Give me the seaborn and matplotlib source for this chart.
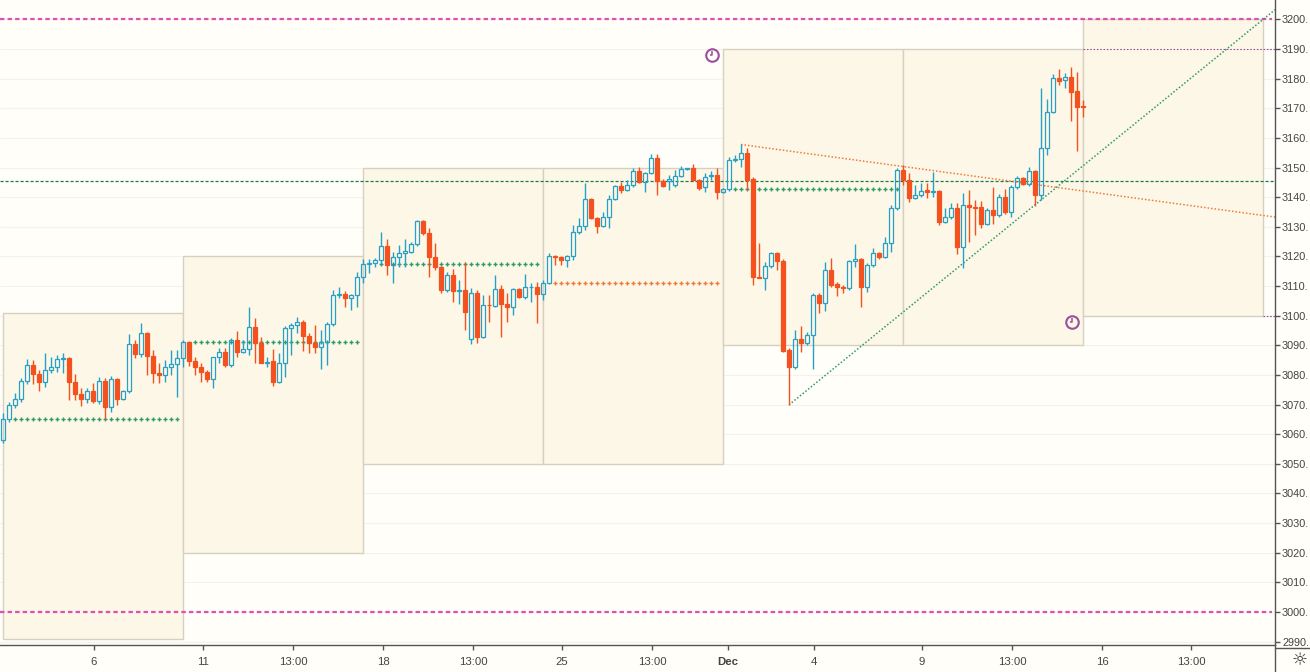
import numpy as np
import pandas as pd
import matplotlib
matplotlib.use("Agg")
import matplotlib.pyplot as plt
from matplotlib.patches import Rectangle
from matplotlib.lines import Line2D
from matplotlib.path import Path
import seaborn as sns

# 4h candles, index 0..180
opens = [
    3058, 3065, 3070, 3072, 3078, 3083.5, 3080.3, 3077.7, 3081.7, 3082.6,
    3085.3, 3085.6, 3077.7, 3073.6, 3071.8, 3074.7, 3071.3, 3078.0, 3069.3, 3078.5,
    3071.8, 3074.7, 3090.3, 3087.0, 3094.0, 3086.4, 3080.8, 3080.0, 3082.8, 3083.7,
    3085.6, 3091.0, 3084.8, 3082.8, 3080.9, 3078.7, 3085.9, 3087.9, 3083.4, 3091.8,
    3087.9, 3088.6, 3096.3, 3090.8, 3084.2, 3084.6, 3077.7, 3084.0, 3095.7, 3096.9,
    3097.8, 3093.0, 3090.8, 3089.3, 3091.1, 3097.1, 3107.0, 3107.3, 3106.1, 3107.0,
    3112.9, 3117.3, 3117.9, 3118.8, 3123.5, 3117.1, 3119.7, 3121.1, 3121.6, 3124.1,
    3132.0, 3127.8, 3119.7, 3116.6, 3108.7, 3113.7, 3108.5, 3108.8, 3092.0, 3107.8,
    3092.7, 3103.6, 3103.3, 3108.9, 3104.0, 3103.0, 3108.9, 3106.4, 3109.6, 3109.6,
    3107.3, 3111.1, 3120.2, 3119.7, 3118.8, 3120.0, 3128.1, 3130.4, 3139.3, 3133.0,
    3130.4, 3133.2, 3139.3, 3143.8, 3142.4, 3144.1, 3148.9, 3145.3, 3148.1, 3153.1,
    3145.6, 3145.6, 3144.1, 3147.2, 3149.5, 3149.7, 3145.8, 3143.3, 3147.0, 3147.5,
    3141.6, 3142.7, 3152.4, 3152.8, 3154.8, 3146.0, 3113.2, 3112.6, 3116.8, 3121.1,
    3118.6, 3088.4, 3082.8, 3092.0, 3090.9, 3093.5, 3107.0, 3104.4, 3115.4, 3110.7,
    3109.8, 3109.2, 3118.5, 3119.0, 3109.6, 3117.1, 3121.1, 3119.7, 3124.4, 3136.3,
    3149.2, 3145.8, 3139.6, 3140.7, 3142.4, 3141.9, 3142.1, 3131.7, 3133.2, 3136.2,
    3123.1, 3137.4, 3136.8, 3136.6, 3131.0, 3135.7, 3134.0, 3140.2, 3135.1, 3143.6,
    3146.4, 3144.5, 3149.0, 3140.7, 3156.5, 3168.9, 3180.1, 3179.6, 3180.7, 3176.0,
    3170.8,
]
highs = [
    3067, 3071, 3074, 3079, 3085.5, 3085, 3081.7, 3087.5, 3086, 3086.7,
    3087.3, 3086.2, 3080.3, 3075.5, 3075.5, 3077.2, 3079.4, 3078.8, 3079.6, 3079.0,
    3075.0, 3093.7, 3091.8, 3097.4, 3094.6, 3088.4, 3083.9, 3085.0, 3088.4, 3088.4,
    3091.8, 3091.5, 3086.2, 3083.9, 3081.7, 3086.2, 3089.2, 3089.2, 3092.4, 3094.9,
    3091.8, 3103.0, 3099.1, 3092.9, 3086.2, 3088.6, 3087.3, 3096.5, 3097.6, 3099.7,
    3098.5, 3094.0, 3096.9, 3095.2, 3098.0, 3108.7, 3109.8, 3108.3, 3107.2, 3114.9,
    3119.2, 3119.0, 3119.4, 3128.4, 3125.8, 3121.6, 3123.9, 3125.8, 3125.0, 3132.3,
    3132.3, 3129.5, 3124.7, 3116.8, 3114.9, 3115.7, 3112.0, 3118.2, 3109.2, 3108.7,
    3107.0, 3107.0, 3113.7, 3110.4, 3107.5, 3109.2, 3109.2, 3114.1, 3111.0, 3111.5,
    3112.0, 3121.1, 3120.5, 3120.2, 3120.5, 3130.6, 3132.9, 3144.7, 3139.9, 3133.4,
    3135.1, 3140.7, 3144.1, 3145.2, 3145.8, 3149.7, 3150.1, 3148.6, 3154.6, 3154.6,
    3146.0, 3147.5, 3149.2, 3150.5, 3150.0, 3151.2, 3146.0, 3148.1, 3149.0, 3149.7,
    3143.0, 3153.7, 3154.3, 3158.0, 3156.5, 3146.9, 3124.4, 3118.2, 3121.6, 3121.6,
    3119.0, 3089.0, 3095.2, 3096.5, 3094.6, 3107.8, 3107.5, 3118.2, 3119.4, 3111.5,
    3110.4, 3118.8, 3124.2, 3119.4, 3117.9, 3122.7, 3121.6, 3126.7, 3137.4, 3149.8,
    3150.9, 3148.1, 3144.1, 3144.7, 3144.7, 3148.6, 3142.4, 3136.2, 3138.2, 3138.2,
    3141.3, 3142.4, 3139.1, 3138.8, 3136.3, 3143.6, 3141.1, 3142.7, 3144.1, 3147.0,
    3146.9, 3150.3, 3149.2, 3176.8, 3173.0, 3181.6, 3183.2, 3182.0, 3184.1, 3182.4,
    3172.8,
]
lows = [
    3057, 3064, 3069, 3071, 3077, 3077, 3074.7, 3076, 3080.8, 3081.1,
    3080.8, 3071.5, 3071.5, 3069.5, 3070.4, 3070.4, 3070.2, 3065.0, 3067.6, 3070.0,
    3071.5, 3073.8, 3085.6, 3086.2, 3080.0, 3077.2, 3077.2, 3077.7, 3080.0, 3072.7,
    3082.8, 3083.0, 3080.0, 3077.7, 3077.7, 3075.5, 3083.9, 3082.8, 3082.8, 3086.2,
    3087.3, 3086.7, 3083.9, 3083.9, 3082.8, 3076.3, 3077.2, 3079.4, 3086.7, 3094.0,
    3088.2, 3087.3, 3087.3, 3081.9, 3083.4, 3096.5, 3105.9, 3103.0, 3101.9, 3102.8,
    3111.0, 3114.3, 3116.6, 3117.1, 3113.7, 3111.1, 3116.6, 3116.6, 3121.1, 3123.5,
    3127.2, 3113.0, 3115.4, 3107.8, 3108.1, 3104.7, 3104.0, 3095.2, 3090.4, 3090.9,
    3092.4, 3098.0, 3103.0, 3092.9, 3098.0, 3100.2, 3105.9, 3105.5, 3104.7, 3097.4,
    3105.3, 3110.7, 3117.1, 3117.1, 3116.6, 3118.8, 3127.6, 3128.9, 3132.5, 3127.8,
    3130.1, 3129.5, 3139.1, 3141.3, 3142.2, 3143.6, 3144.9, 3141.9, 3147.8, 3140.7,
    3143.3, 3142.4, 3143.6, 3146.9, 3149.3, 3145.6, 3142.4, 3141.9, 3145.8, 3139.3,
    3141.3, 3142.2, 3152.0, 3150.3, 3142.4, 3110.4, 3112.6, 3108.7, 3116.0, 3115.4,
    3087.9, 3069.9, 3081.9, 3087.9, 3090.1, 3081.9, 3101.0, 3101.7, 3109.8, 3106.7,
    3107.8, 3108.7, 3116.5, 3102.8, 3108.1, 3116.5, 3119.0, 3119.4, 3121.6, 3135.7,
    3144.1, 3138.5, 3139.3, 3140.2, 3139.9, 3140.2, 3130.6, 3131.4, 3132.5, 3120.8,
    3116.0, 3125.0, 3127.2, 3129.5, 3130.6, 3131.0, 3133.4, 3134.3, 3133.4, 3142.7,
    3144.1, 3143.8, 3137.0, 3139.0, 3154.2, 3168.5, 3177.9, 3176.8, 3165.8, 3155.7,
    3167.2,
]
closes = [
    3065, 3070, 3072, 3078, 3083.5, 3080.3, 3077.7, 3081.7, 3082.6, 3085.3,
    3085.6, 3077.7, 3073.6, 3071.8, 3074.7, 3071.3, 3078.0, 3069.3, 3078.5, 3071.8,
    3074.7, 3090.3, 3087.0, 3094.0, 3086.4, 3080.8, 3080.0, 3082.8, 3083.7, 3085.6,
    3091.0, 3084.8, 3082.8, 3080.9, 3078.7, 3085.9, 3087.9, 3083.4, 3091.8, 3087.9,
    3088.6, 3096.3, 3090.8, 3084.2, 3084.5, 3077.7, 3084.0, 3095.7, 3096.9, 3097.8,
    3093.0, 3090.8, 3089.3, 3091.1, 3097.1, 3107.0, 3107.3, 3106.1, 3107.0, 3112.9,
    3117.3, 3117.9, 3118.8, 3123.5, 3117.1, 3119.7, 3121.1, 3121.8, 3124.2, 3132.0,
    3127.8, 3119.7, 3116.6, 3108.7, 3113.7, 3108.5, 3108.8, 3101.4, 3107.8, 3092.7,
    3103.6, 3103.5, 3108.9, 3104.0, 3103.0, 3108.9, 3106.4, 3109.6, 3109.8, 3107.3,
    3111.1, 3120.2, 3119.7, 3118.8, 3120.0, 3128.1, 3130.4, 3139.3, 3132.9, 3130.4,
    3133.2, 3139.3, 3143.8, 3142.4, 3144.1, 3148.9, 3145.3, 3148.1, 3153.1, 3145.6,
    3143.9, 3146.0, 3147.2, 3149.4, 3149.8, 3145.8, 3143.2, 3146.9, 3147.5, 3141.6,
    3142.7, 3152.6, 3152.8, 3154.8, 3145.8, 3112.9, 3112.6, 3116.8, 3121.1, 3118.6,
    3088.2, 3082.8, 3092.0, 3090.9, 3093.5, 3107.0, 3104.4, 3115.4, 3110.4, 3109.6,
    3109.2, 3118.5, 3119.0, 3109.6, 3117.1, 3121.1, 3119.7, 3124.4, 3136.3, 3149.2,
    3145.8, 3139.6, 3140.7, 3142.2, 3141.9, 3142.0, 3131.7, 3133.2, 3136.2, 3123.1,
    3137.4, 3136.6, 3136.4, 3131.0, 3135.7, 3134.0, 3140.2, 3135.1, 3143.6, 3146.4,
    3144.5, 3149.0, 3140.7, 3156.5, 3168.9, 3180.1, 3179.4, 3180.7, 3175.6, 3170.6,
    3170.6,
]

# weekly range boxes (candle index span, price span)
box_start = [0, 30, 60, 90, 120, 150, 180]
box_end = [30, 60, 90, 120, 150, 180, 210]
box_low = [2991, 3020, 3050, 3050, 3090, 3090, 3100]
box_high = [3101, 3120, 3150, 3150, 3190, 3190, 3200]

# "+" level markers inside boxes
lvl_value = [3065.1, 3091.0, 3117.3, 3110.9, 3142.7]
lvl_first = [2, 32, 63, 92, 122]
lvl_last = [29, 59, 89, 119, 149]
lvl_kind = ["green", "green", "green", "orange", "green"]

# trend lines (candle index, price)
down_trend_x = [123, 212]
down_trend_y = [3157.8, 3133.3]
up_trend_x = [131, 212]
up_trend_y = [3069.9, 3203.3]

# clock icons
clock_x = [118.2, 178.2]
clock_y = [3188.0, 3097.9]

price_ticks = list(range(2990, 3201, 10))
date_pos = [15.17, 33.33, 48.33, 63.33, 78.33, 93.17, 108.17, 120.83,
            135.17, 153.17, 168.17, 183.17, 198.0]
date_labels = ["6", "11", "13:00", "18", "13:00", "25", "13:00", "Dec",
               "4", "9", "13:00", "16", "13:00"]

BG = "#fffef8"
BOX_FILL = "#fdf7e7"
BOX_EDGE = "#d7d0c2"
UP = "#26a0c6"
DOWN = "#f4511e"
GREEN = "#2e9a6b"
ORANGE = "#f07a3a"
PINK = "#dc52b0"
PURPLE = "#9a4e9d"
AXIS = "#555555"

sns.set_style("white")
plt.rcParams["font.family"] = ["Liberation Sans", "DejaVu Sans"]

fig = plt.figure(figsize=(13.1, 6.72), dpi=100, facecolor=BG)
ax = fig.add_axes([0, 27 / 672, 1275 / 1310, 645 / 672], facecolor=BG)

df = pd.DataFrame({"o": opens, "h": highs, "l": lows, "c": closes})
df["i"] = np.arange(len(df))
df["up"] = df["c"] >= df["o"]
df["top"] = df[["o", "c"]].max(axis=1)
df["bot"] = df[["o", "c"]].min(axis=1)
df["body"] = (df["top"] - df["bot"]).clip(lower=0.12)

# faint price grid
for p in price_ticks:
    ax.axhline(p, color="#f5f2e9", lw=0.8, zorder=0)

for x0, x1, lo, hi in zip(box_start, box_end, box_low, box_high):
    ax.add_patch(Rectangle((x0, lo), x1 - x0, hi - lo, facecolor=BOX_FILL,
                           edgecolor=BOX_EDGE, lw=1, zorder=1))

# level markers
rows = []
for v, a, b, k in zip(lvl_value, lvl_first, lvl_last, lvl_kind):
    for i in range(a, b + 1):
        rows.append({"x": i, "y": v, "kind": k})
lv = pd.DataFrame(rows)
sns.scatterplot(data=lv, x="x", y="y", hue="kind", marker="+", s=8,
                linewidth=1.0, palette={"green": GREEN, "orange": ORANGE},
                legend=False, ax=ax, zorder=2)

# horizontal reference lines
ax.hlines([3200, 3000], -0.5, 211.5, colors=PINK, lw=1.6, linestyles=(0, (2, 1.4)), zorder=2)
ax.hlines(3145.6, -0.5, 212, colors="#1d7a4c", lw=0.9, linestyles=(0, (2.5, 1.5)), zorder=2)
ax.hlines(3190, 180, 212, colors=PURPLE, lw=0.8, linestyles=(0, (1.5, 1.5)), zorder=2)
ax.hlines(3100, 210, 212, colors=PURPLE, lw=0.8, linestyles=(0, (1.5, 1.5)), zorder=2)

# trend lines
sns.lineplot(x=down_trend_x, y=down_trend_y, ax=ax, color=ORANGE, lw=1.1,
             linestyle=(0, (1, 1.3)), zorder=2)
sns.lineplot(x=up_trend_x, y=up_trend_y, ax=ax, color=GREEN, lw=1.1,
             linestyle=(0, (1, 1.3)), zorder=2)

# candles
for up, col in [(True, UP), (False, DOWN)]:
    d = df[df["up"] == up]
    ax.vlines(d["i"], d["top"], d["h"], color=col, lw=1.0, zorder=3)
    ax.vlines(d["i"], d["l"], d["bot"], color=col, lw=1.0, zorder=3)
    ax.bar(d["i"], d["body"], bottom=d["bot"], width=0.62,
           facecolor="none" if up else col, edgecolor=col, lw=0.9, zorder=4)

# clock icons
hands = Path([(0, 1), (0, 0), (-0.6, 0)], [Path.MOVETO, Path.LINETO, Path.LINETO])
ax.plot(clock_x, clock_y, linestyle="none", marker="o", ms=9, mfc="none",
        mec=PURPLE, mew=1.5, zorder=5)
ax.plot(clock_x, clock_y, linestyle="none", marker=hands, ms=6, mfc="none",
        mec=PURPLE, mew=1.1, zorder=5)

ax.set_xlim(-0.5, 212)
ax.set_ylim(2988.83, 3206.58)
ax.set_xlabel("")
ax.set_ylabel("")

ax.yaxis.tick_right()
ax.set_yticks(price_ticks)
ax.set_yticklabels([f"{p}." for p in price_ticks])
ax.set_xticks(date_pos)
ax.set_xticklabels(date_labels)
for lab in ax.get_xticklabels():
    if lab.get_text() == "Dec":
        lab.set_fontweight("bold")
ax.tick_params(axis="y", which="both", right=True, left=False, direction="out",
               length=3.6, width=1, color=AXIS, labelsize=7.8, labelcolor="#444444", pad=1.5)
ax.tick_params(axis="x", which="both", bottom=True, direction="out",
               length=3.6, width=1, color=AXIS, labelsize=8.2, labelcolor="#444444", pad=5)

for s in ["top", "left"]:
    ax.spines[s].set_visible(False)
for s in ["right", "bottom"]:
    ax.spines[s].set_color(AXIS)
    ax.spines[s].set_linewidth(1)

# axis lines continuing into the corner
fig.add_artist(Line2D([1275 / 1310, 1275 / 1310], [0, 27 / 672], color=AXIS, lw=1))
fig.add_artist(Line2D([1275 / 1310, 1], [24 / 672, 24 / 672], color=AXIS, lw=1))
fig.text(1300 / 1310, 1 - 660 / 672, "\u263c", ha="center", va="center",
         fontsize=13, color="#333333", family="DejaVu Sans")

fig.savefig("out.png", dpi=100, facecolor=BG)
